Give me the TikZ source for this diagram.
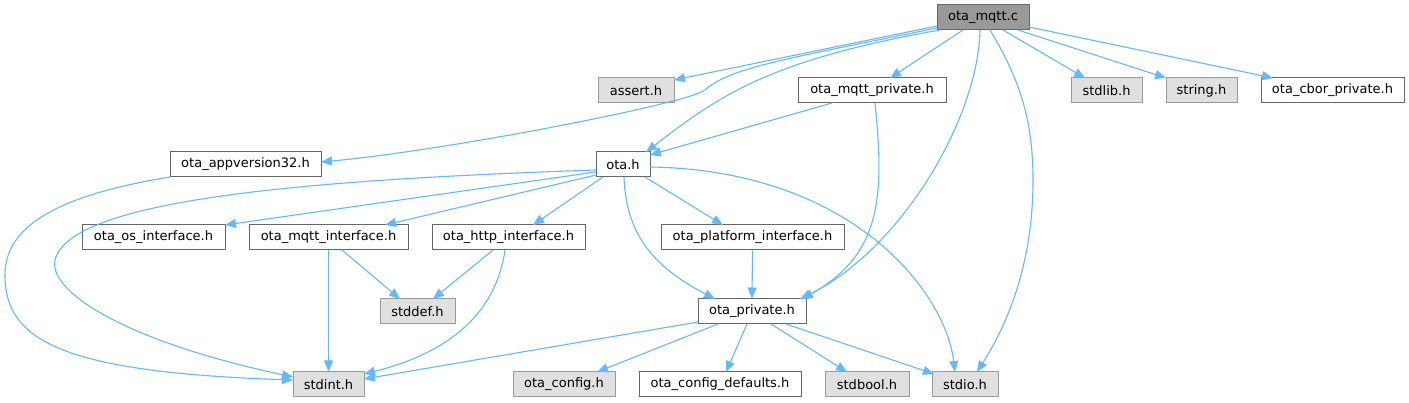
\documentclass[tikz,border=0pt]{standalone}
\usepackage{fontspec}
\setmainfont{DejaVu Sans}
\usetikzlibrary{calc,arrows.meta}
\definecolor{edgeblue}{HTML}{63B8FF}
\definecolor{darkgr}{HTML}{999999}
\definecolor{lightgr}{HTML}{E0E0E0}
\definecolor{bordgr}{HTML}{666666}
\tikzset{
  base/.style={rectangle, minimum height=25pt, inner sep=0pt, line width=1pt,
    font=\fontsize{13}{15}\selectfont, text=black},
  mainfile/.style={base, fill=darkgr, draw=bordgr},
  sysfile/.style={base, fill=lightgr, draw=darkgr},
  userfile/.style={base, fill=white, draw=bordgr},
  edge/.style={draw=edgeblue, line width=1.1pt, -{Triangle[length=11pt,width=9pt]}},
}
\begin{document}
\begin{tikzpicture}[x=1pt,y=-1pt]
\useasboundingbox[fill=white] (0,0) rectangle (1409,403);
% row 1
\node[mainfile, minimum width=92pt] (mqttc) at (983,17.5) {ota\_mqtt.c};
% row 2
\node[sysfile, minimum width=76pt] (assert) at (636,90.5) {assert.h};
\node[userfile, minimum width=148pt] (mqttpriv) at (872,90.5) {ota\_mqtt\_private.h};
\node[sysfile, minimum width=71pt] (stdlib) at (1106.5,90.5) {stdlib.h};
\node[sysfile, minimum width=71pt] (string) at (1201.5,90.5) {string.h};
\node[userfile, minimum width=143pt] (cbor) at (1332.5,90.5) {ota\_cbor\_private.h};
% row 3
\node[userfile, minimum width=151pt] (appver) at (245.5,164.5) {ota\_appversion32.h};
\node[userfile, minimum width=54pt] (otah) at (623,164.5) {ota.h};
% row 4
\node[userfile, minimum width=143pt] (osif) at (153.5,237.5) {ota\_os\_interface.h};
\node[userfile, minimum width=159pt] (mqttif) at (328.5,237.5) {ota\_mqtt\_interface.h};
\node[userfile, minimum width=153pt] (httpif) at (508.5,237.5) {ota\_http\_interface.h};
\node[userfile, minimum width=183pt] (platif) at (752.5,237.5) {ota\_platform\_interface.h};
% row 5
\node[sysfile, minimum width=75pt] (stddef) at (417.5,311.5) {stddef.h};
\node[userfile, minimum width=108pt] (otapriv) at (752,311.5) {ota\_private.h};
% row 6
\node[sysfile, minimum width=71pt] (stdint) at (328.5,384.5) {stdint.h};
\node[sysfile, minimum width=102pt] (config) at (564,384.5) {ota\_config.h};
\node[userfile, minimum width=162pt] (cfgdef) at (720,384.5) {ota\_config\_defaults.h};
\node[sysfile, minimum width=84pt] (stdbool) at (867,384.5) {stdbool.h};
\node[sysfile, minimum width=66pt] (stdio) at (965,384.5) {stdio.h};

% edges from ota_mqtt.c
\draw[edge] ($(mqttc)+(-46,8.5)$) -- ($(assert)+(38,-10.5)$);
\draw[edge] ($(mqttc)+(-46,10.5)$) .. controls (780,60) and (730,68) .. (705,90)
   .. controls (690,103) and (450,150) .. ($(appver)+(75.5,-2.5)$);
\draw[edge] ($(mqttc)+(-43,12.5)$) .. controls (770,60) and (720,95) .. ($(otah)+(23,-12.5)$);
\draw[edge] ($(mqttc)+(-20,12.5)$) -- ($(mqttpriv)+(18,-12.5)$);
\draw[edge] ($(mqttc)+(-3,12.5)$) .. controls (978,120) and (900,250) .. ($(otapriv)+(48,-12.5)$);
\draw[edge] ($(mqttc)+(7,12.5)$) .. controls (1020,80) and (1033,120) .. (1033,180)
   .. controls (1033,260) and (1010,320) .. ($(stdio)+(12,-12.5)$);
\draw[edge] ($(mqttc)+(20,12.5)$) -- ($(stdlib)+(-21.5,-12.5)$);
\draw[edge] ($(mqttc)+(35,12.5)$) -- ($(string)+(-35.5,-12.5)$);
\draw[edge] ($(mqttc)+(46,9.5)$) -- ($(cbor)+(-59.5,-12.5)$);
% from ota_mqtt_private.h
\draw[edge] ($(mqttpriv)+(-40,12.5)$) -- ($(otah)+(27,-9.5)$);
\draw[edge] ($(mqttpriv)+(3,12.5)$) .. controls (885,200) and (880,255) .. ($(otapriv)+(50,-12.5)$);
% from ota_appversion32.h
\draw[edge] ($(appver)+(-75.5,12.5)$) .. controls (60,195) and (5,225) .. (5,275)
   .. controls (5,340) and (60,372) .. ($(stdint)+(-35.5,-4.5)$);
% from ota.h
\draw[edge] ($(otah)+(-27,5.5)$) .. controls (300,180) and (70,200) .. (55,260)
   .. controls (48,290) and (120,340) .. ($(stdint)+(-35.5,-7.5)$);
\draw[edge] ($(otah)+(-27,7.5)$) -- ($(osif)+(71.5,-12.5)$);
\draw[edge] ($(otah)+(-27,10.5)$) -- ($(mqttif)+(56.5,-12.5)$);
\draw[edge] ($(otah)+(-20,12.5)$) -- ($(httpif)+(24.5,-12.5)$);
\draw[edge] ($(otah)+(22,12.5)$) -- ($(platif)+(-29.5,-12.5)$);
\draw[edge] ($(otah)+(1,12.5)$) .. controls (626,240) and (660,270) .. ($(otapriv)+(-37,-12.5)$);
\draw[edge] ($(otah)+(27,2.5)$) .. controls (850,170) and (945,290) .. ($(stdio)+(-10,-12.5)$);
% from interfaces
\draw[edge] ($(mqttif)+(13.5,12.5)$) -- ($(stddef)+(-17.5,-12.5)$);
\draw[edge] (mqttif.south) -- (stdint.north);
\draw[edge] ($(httpif)+(-15.5,12.5)$) -- ($(stddef)+(15.5,-12.5)$);
\draw[edge] ($(httpif)+(-3.5,12.5)$) .. controls (495,320) and (440,355) .. ($(stdint)+(35.5,-10.5)$);
\draw[edge] (platif.south) -- (otapriv.north);
% from ota_private.h
\draw[edge] ($(otapriv)+(-54,10.5)$) -- ($(stdint)+(35.5,-5.5)$);
\draw[edge] ($(otapriv)+(-34,12.5)$) -- ($(config)+(33,-12.5)$);
\draw[edge] ($(otapriv)+(-5,12.5)$) -- ($(cfgdef)+(6,-12.5)$);
\draw[edge] ($(otapriv)+(19,12.5)$) -- ($(stdbool)+(-20,-12.5)$);
\draw[edge] ($(otapriv)+(34,12.5)$) -- ($(stdio)+(-31,-10.5)$);
\end{tikzpicture}
\end{document}
